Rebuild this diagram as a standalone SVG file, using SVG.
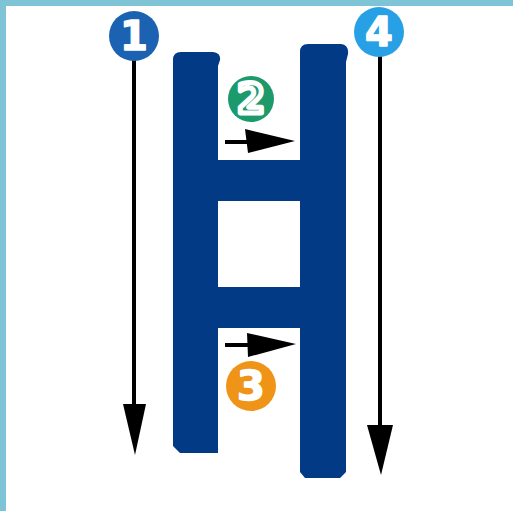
<svg xmlns="http://www.w3.org/2000/svg" width="513" height="511" viewBox="0 0 513 511">
  <style>
    .frame { fill: #7fc3d6; }
    .letter { fill: #033a85; }
    .conn { stroke: #000000; stroke-width: 4; fill: none; }
    .head { fill: #000000; }
    .num { font-family: "DejaVu Sans", "Liberation Sans", sans-serif; font-weight: bold; font-size: 40px; text-anchor: middle; fill: #ffffff; stroke: #ffffff; stroke-width: 1.5; stroke-linejoin: round; }
  </style>

  <!-- background and frame -->
  <rect x="0" y="0" width="513" height="511" fill="#ffffff"/>
  <rect class="frame" x="0" y="0" width="513" height="6"/>
  <rect class="frame" x="0" y="0" width="6" height="511"/>

  <!-- the letter H -->
  <g id="letter-h">
    <path class="letter" d="M181,52 L213,52 Q221,53 220,60 L218,66 L218,453 L180,453 L173,446 L173,60 Q173,52 181,52 Z"/>
    <path class="letter" d="M308,44 L341,44 Q349,45 348,54 L346,62 L346,472 L340,478 L305,478 L300,472 L300,52 Q300,44 308,44 Z"/>
    <rect class="letter" x="215" y="160" width="90" height="41"/>
    <rect class="letter" x="215" y="287" width="90" height="41"/>
  </g>

  <!-- stroke order arrows -->
  <g id="connectors">
    <line class="conn" x1="134" y1="56" x2="134" y2="408"/>
    <polygon class="head" points="123,404 146,404 135,455"/>
    <line class="conn" x1="380" y1="56" x2="380" y2="428"/>
    <polygon class="head" points="367,425 393,425 381,475"/>
    <line class="conn" x1="225" y1="142" x2="250" y2="142"/>
    <polygon class="head" points="245,129 295,141 248,153"/>
    <line class="conn" x1="225" y1="345" x2="250" y2="345"/>
    <polygon class="head" points="247,333 296,344 248,357"/>
  </g>

  <!-- step badges -->
  <g id="step-1">
    <circle cx="134" cy="36" r="25" fill="#1b63b2"/>
    <text class="num" x="134" y="50">1</text>
  </g>
  <g id="step-2">
    <circle cx="251" cy="99" r="23" fill="#1c9a6b"/>
    <text class="num" x="251" y="113" style="fill:#1c9a6b;stroke-width:5">2</text>
  </g>
  <g id="step-3">
    <circle cx="251" cy="386" r="25" fill="#f09418"/>
    <text class="num" x="251" y="400">3</text>
  </g>
  <g id="step-4">
    <circle cx="379" cy="32" r="25" fill="#28a0e6"/>
    <text class="num" x="379" y="46">4</text>
  </g>
</svg>
